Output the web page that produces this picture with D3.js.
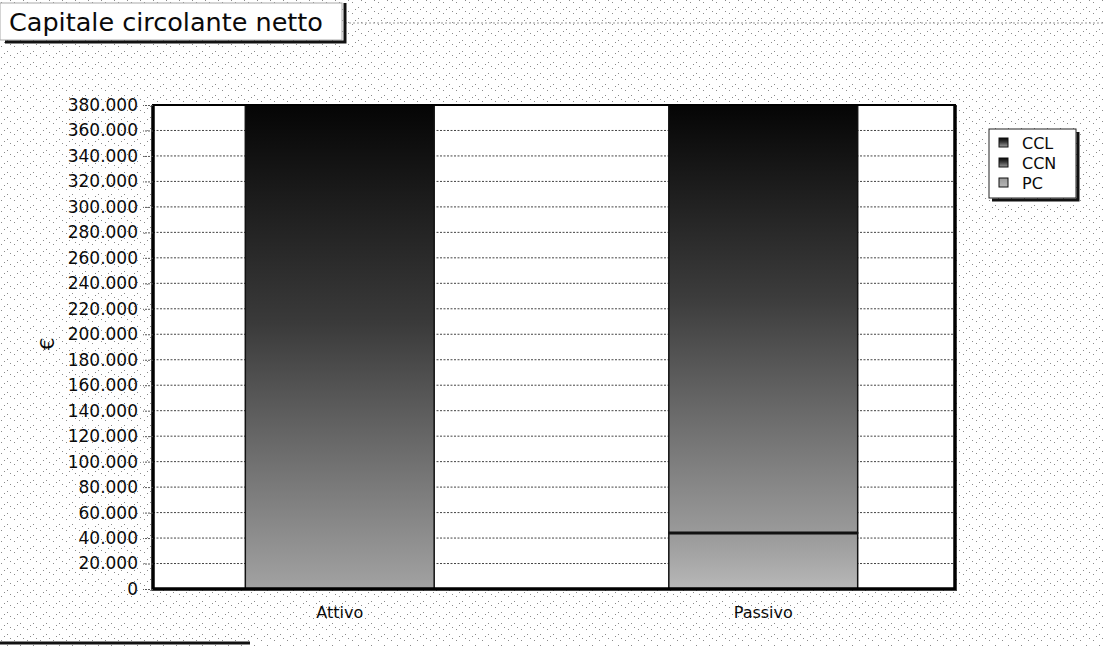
<!DOCTYPE html>
<html>
<head>
<meta charset="utf-8">
<script src="https://cdn.jsdelivr.net/npm/d3@7"></script>
<style>
  body { margin: 0; background: #fff; }
  svg text { font-family: "DejaVu Sans", Verdana, sans-serif; fill: #0a0a0a; }
</style>
</head>
<body>
<svg id="chart" width="1104" height="646"></svg>
<script>
// values
const categories = ['Attivo', 'Passivo'];
const seriesNames = ['CCL', 'CCN', 'PC'];
const cclValues = [380000, 0];
const ccnValues = [0, 336000];
const pcValues = [0, 44000];
const yTickValues = [0, 20000, 40000, 60000, 80000, 100000, 120000, 140000, 160000, 180000,
    200000, 220000, 240000, 260000, 280000, 300000, 320000, 340000, 360000, 380000];
const chartTitle = 'Capitale circolante netto';
const yLabel = '€';

class CcnChart {
    constructor() {
        this.config = {
            width: 1104,
            height: 646,
            plot: { left: 153, right: 955, top: 105, bottom: 589 }
        };
        // gradient stops per series (top, middle, bottom)
        this.fills = {
            CCL: ['#050505', '#3a3a3a', '#a2a2a2'],
            CCN: ['#050505', '#3c3c3c', '#9a9a9a'],
            PC: ['#999999', '#a6a6a6', '#b8b8b8']
        };
        this.itLocale = d3.formatLocale({ decimal: ',', thousands: '.', grouping: [3], currency: ['€', ''] });
        this.fmt = this.itLocale.format(',');
    }

    rows() {
        return categories.map((c, i) => ({
            category: c,
            CCL: cclValues[i],
            CCN: ccnValues[i],
            PC: pcValues[i]
        }));
    }

    draw() {
        let p = this.config.plot;
        let svg = d3.select('#chart');
        let defs = svg.append('defs');

        // sparse speckle like the scanned page
        let pat = defs.append('pattern')
            .attr('id', 'speckle')
            .attr('width', 13).attr('height', 11)
            .attr('patternUnits', 'userSpaceOnUse');
        pat.append('rect').attr('width', 13).attr('height', 11).attr('fill', '#fff');
        [[1, 2], [7, 7], [10, 0], [4, 9]].forEach(d => {
            pat.append('rect').attr('x', d[0]).attr('y', d[1])
                .attr('width', 1).attr('height', 1).attr('fill', '#8a8a8a');
        });

        seriesNames.forEach(k => {
            let g = defs.append('linearGradient')
                .attr('id', 'grad-' + k)
                .attr('x1', 0).attr('y1', 0).attr('x2', 0).attr('y2', 1);
            g.append('stop').attr('offset', '0%').attr('stop-color', this.fills[k][0]);
            g.append('stop').attr('offset', '45%').attr('stop-color', this.fills[k][1]);
            g.append('stop').attr('offset', '100%').attr('stop-color', this.fills[k][2]);
        });

        svg.append('rect')
            .attr('width', this.config.width).attr('height', this.config.height)
            .attr('fill', 'url(#speckle)');

        // title box with its shadow
        svg.append('line')
            .attr('x1', 345).attr('x2', this.config.width).attr('y1', 23).attr('y2', 23)
            .attr('stroke', '#999').attr('stroke-dasharray', '2,2');
        svg.append('rect')
            .attr('x', 0).attr('y', 3).attr('width', 342).attr('height', 37)
            .attr('fill', '#fff').attr('stroke', '#aaa').attr('stroke-width', 1);
        svg.append('path')
            .attr('d', 'M5,42 H345 V3')
            .attr('fill', 'none').attr('stroke', '#111').attr('stroke-width', 3);
        svg.append('text')
            .attr('x', 9).attr('y', 31)
            .style('font-size', '25.5px')
            .text(chartTitle);

        // plot area
        svg.append('rect')
            .attr('x', p.left).attr('y', p.top)
            .attr('width', p.right - p.left).attr('height', p.bottom - p.top)
            .attr('fill', '#fff');

        let x = d3.scaleBand()
            .domain(categories)
            .range([128, 975])
            .paddingInner(0.554)
            .paddingOuter(0.277);
        let y = d3.scaleLinear()
            .domain([0, 380000])
            .range([p.bottom, p.top]);

        // dotted gridlines
        svg.append('g')
            .selectAll('line')
            .data(yTickValues)
            .enter()
            .append('line')
            .attr('x1', p.left).attr('x2', p.right)
            .attr('y1', d => y(d)).attr('y2', d => y(d))
            .attr('stroke', '#444')
            .attr('stroke-width', 1)
            .attr('stroke-dasharray', '2,1.5');

        // stacked bars, PC at the bottom
        let stack = d3.stack().keys(['PC', 'CCN', 'CCL']);
        let layers = stack(this.rows());
        svg.append('g')
            .selectAll('g')
            .data(layers)
            .enter()
            .append('g')
            .attr('fill', d => 'url(#grad-' + d.key + ')')
            .selectAll('rect')
            .data(d => d.filter(s => s[1] - s[0] > 0))
            .enter()
            .append('rect')
            .attr('x', d => x(d.data.category))
            .attr('width', x.bandwidth())
            .attr('y', d => y(d[1]))
            .attr('height', d => y(d[0]) - y(d[1]))
            .attr('stroke', '#111')
            .attr('stroke-width', 1.5);
        // boundary between PC and CCN is heavier in the original
        svg.append('g')
            .selectAll('line')
            .data(layers[0].filter(s => s[1] > 0))
            .enter()
            .append('line')
            .attr('x1', d => x(d.data.category)).attr('x2', d => x(d.data.category) + x.bandwidth())
            .attr('y1', d => y(d[1])).attr('y2', d => y(d[1]))
            .attr('stroke', '#111').attr('stroke-width', 3);

        // frame
        svg.append('rect')
            .attr('x', p.left).attr('y', p.top)
            .attr('width', p.right - p.left).attr('height', p.bottom - p.top)
            .attr('fill', 'none').attr('stroke', '#000').attr('stroke-width', 2);
        svg.append('path')
            .attr('d', `M${p.left},${p.top} V${p.bottom} H${p.right} V${p.top}`)
            .attr('fill', 'none').attr('stroke', '#000').attr('stroke-width', 3.5);

        // y axis
        let yAxis = svg.append('g')
            .attr('transform', `translate(${p.left},0)`)
            .call(d3.axisLeft(y).tickValues(yTickValues).tickFormat(this.fmt).tickSize(10).tickPadding(5));
        yAxis.select('.domain').remove();
        yAxis.selectAll('.tick line').attr('stroke', '#555').attr('stroke-dasharray', '2,1');
        yAxis.selectAll('.tick text')
            .style('font-size', '17px');

        // x axis
        let xAxis = svg.append('g')
            .attr('transform', `translate(0,${p.bottom})`)
            .call(d3.axisBottom(x).tickSize(0).tickPadding(18));
        xAxis.select('.domain').remove();
        xAxis.selectAll('.tick text')
            .style('font-size', '16px');

        svg.append('text')
            .attr('transform', 'translate(54,344) rotate(-90)')
            .attr('text-anchor', 'middle')
            .style('font-size', '20px')
            .text(yLabel);

        this.drawLegend(svg);

        // scanner edge at the bottom left
        svg.append('line')
            .attr('x1', 0).attr('x2', 250).attr('y1', 643).attr('y2', 643)
            .attr('stroke', '#111').attr('stroke-width', 3);
    }

    drawLegend(svg) {
        let lg = svg.append('g').attr('transform', 'translate(989,129)');
        lg.append('rect')
            .attr('width', 87).attr('height', 69)
            .attr('fill', '#fff').attr('stroke', '#222').attr('stroke-width', 1);
        lg.append('path')
            .attr('d', 'M3,71 H89 V3')
            .attr('fill', 'none').attr('stroke', '#111').attr('stroke-width', 3);
        let item = lg.selectAll('.item')
            .data(seriesNames)
            .enter()
            .append('g')
            .attr('class', 'item')
            .attr('transform', (d, i) => `translate(10,${14 + i * 20})`);
        item.append('rect')
            .attr('y', -5).attr('width', 9).attr('height', 9)
            .attr('fill', d => 'url(#grad-' + d + ')')
            .attr('stroke', '#111').attr('stroke-width', 1);
        item.append('text')
            .attr('x', 23).attr('y', 0).attr('dy', '0.35em')
            .style('font-size', '16px')
            .text(d => d);
    }
}

let chart = new CcnChart();
chart.draw();
</script>
</body>
</html>
